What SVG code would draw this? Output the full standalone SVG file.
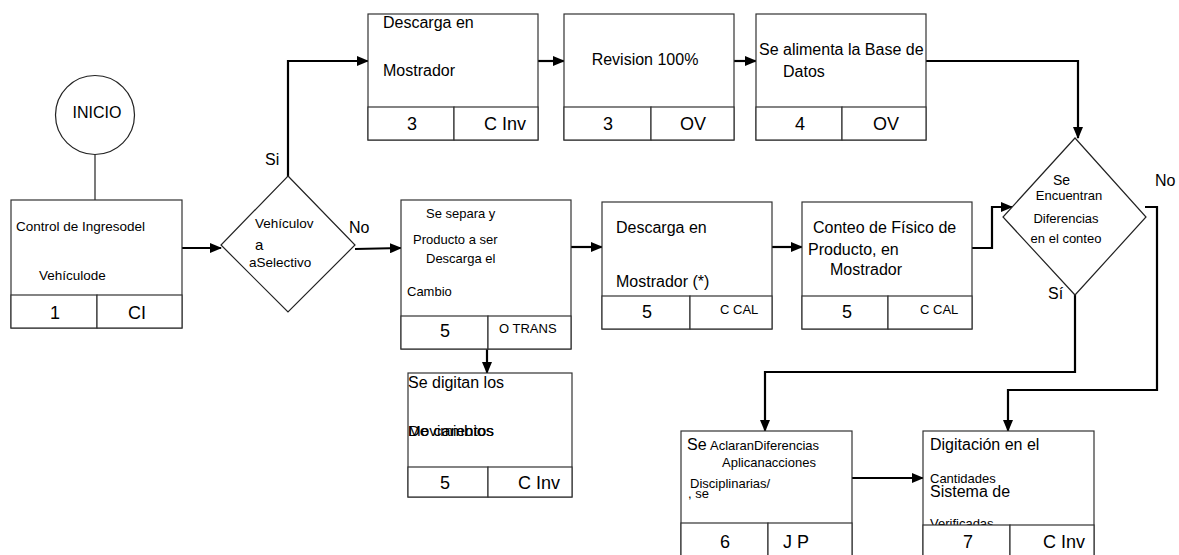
<svg xmlns="http://www.w3.org/2000/svg" width="1179" height="555" viewBox="0 0 1179 555">
  <defs>
    <marker id="arr" markerWidth="12" markerHeight="10" refX="11" refY="5" orient="auto" markerUnits="userSpaceOnUse">
      <path d="M0,0 L12,5 L0,10 Z" fill="#000"/>
    </marker>
    <style>
      text { font-family: "Liberation Sans", Arial, sans-serif; fill: #000; }
      .t { font-size: 16px; }
      .s { font-size: 13px; }
      .n { font-size: 18px; }
      .box, .cell { fill: #fff; stroke: #333; stroke-width: 1.2; }
      .shape { fill: #fff; stroke: #222; stroke-width: 1.2; }
      .conn { fill: none; stroke: #000; stroke-width: 2.2; }
      .thin { fill: none; stroke: #222; stroke-width: 1.2; }
      .mid { text-anchor: middle; }
    </style>
  </defs>

  <!-- connectors -->
  <g id="connectors">
    <path class="thin" d="M95,154 L95,200"/>
    <path class="conn" d="M182,248 L221,248" marker-end="url(#arr)"/>
    <path class="conn" d="M288,177 L288,61 L368,61" marker-end="url(#arr)"/>
    <path class="conn" d="M355,249 L401,248" marker-end="url(#arr)"/>
    <path class="conn" d="M538,61 L564,61" marker-end="url(#arr)"/>
    <path class="conn" d="M734,61 L756,61" marker-end="url(#arr)"/>
    <path class="conn" d="M926,61 L1078,61 L1078,138" marker-end="url(#arr)"/>
    <path class="conn" d="M571,247 L602,247" marker-end="url(#arr)"/>
    <path class="conn" d="M772,247 L802,247" marker-end="url(#arr)"/>
    <path class="conn" d="M972,248 L992,248 L992,207 L1012,207" marker-end="url(#arr)"/>
    <path class="conn" d="M1145,207 L1157,207 L1157,390 L1008,390 L1008,431" marker-end="url(#arr)"/>
    <path class="conn" d="M1075,295 L1075,372 L765,372 L765,431" marker-end="url(#arr)"/>
    <path class="conn" d="M487,349 L487,373" marker-end="url(#arr)"/>
    <path class="conn" d="M852,478 L923,478" marker-end="url(#arr)"/>
    <text class="t" x="265" y="165">Si</text>
    <text class="t" x="349" y="233">No</text>
    <text class="t" x="1155" y="186">No</text>
    <text class="t" x="1048" y="299">Sí</text>
  </g>

  <!-- start -->
  <g id="inicio">
    <circle class="shape" cx="95" cy="115" r="39.5"/>
    <text class="t mid" x="97" y="118">INICIO</text>
  </g>

  <g id="control-ingreso">
    <rect class="box" x="11" y="200" width="171" height="128"/>
    <text x="16" y="231" style="font-size:13.5px">Control de Ingresodel</text>
    <text x="39" y="280" style="font-size:13.5px">Vehículode</text>
    <rect class="cell" x="11" y="295" width="86" height="33"/>
    <rect class="cell" x="97" y="295" width="85" height="33"/>
    <text class="n mid" x="55" y="319">1</text>
    <text class="n mid" x="137" y="319">CI</text>
  </g>

  <g id="decision-selectivo">
    <polygon class="shape" points="288,176 355,245 288,312 221,245"/>
    <text x="255" y="228" style="font-size:13.5px">Vehículov</text>
    <text x="255" y="250" style="font-size:15px">a</text>
    <text x="249" y="267" style="font-size:13.5px">aSelectivo</text>
  </g>

  <g id="descarga-mostrador-1">
    <rect class="box" x="368" y="14" width="170" height="126"/>
    <text class="t" x="383" y="28">Descarga en</text>
    <text class="t" x="383" y="76">Mostrador</text>
    <rect class="cell" x="368" y="107" width="86" height="33"/>
    <rect class="cell" x="454" y="107" width="84" height="33"/>
    <text class="n mid" x="412" y="130">3</text>
    <text class="n" x="484" y="130">C Inv</text>
  </g>

  <g id="revision">
    <rect class="box" x="564" y="14" width="170" height="126"/>
    <text class="t mid" x="645" y="65">Revision 100%</text>
    <rect class="cell" x="564" y="107" width="87" height="33"/>
    <rect class="cell" x="651" y="107" width="83" height="33"/>
    <text class="n mid" x="608" y="130">3</text>
    <text class="n mid" x="693" y="130">OV</text>
  </g>

  <g id="base-datos">
    <rect class="box" x="756" y="14" width="170" height="126"/>
    <text class="t" x="759" y="55">Se alimenta la Base de</text>
    <text class="t" x="783" y="77">Datos</text>
    <rect class="cell" x="756" y="107" width="86" height="33"/>
    <rect class="cell" x="842" y="107" width="84" height="33"/>
    <text class="n mid" x="800" y="130">4</text>
    <text class="n mid" x="886" y="130">OV</text>
  </g>

  <g id="separa-producto">
    <rect class="box" x="401" y="200" width="170" height="149"/>
    <text class="s" x="426" y="218">Se separa y</text>
    <text class="s" x="413" y="244">Producto a ser</text>
    <text class="s" x="426" y="263">Descarga el</text>
    <text class="s" x="407" y="296">Cambio</text>
    <rect class="cell" x="401" y="316" width="87" height="33"/>
    <rect class="cell" x="488" y="316" width="83" height="33"/>
    <text class="n mid" x="445" y="337">5</text>
    <text class="s" x="499" y="333">O TRANS</text>
  </g>

  <g id="digitan-movimientos">
    <rect class="box" x="408" y="373" width="164" height="124"/>
    <text class="t" x="408" y="388">Se digitan los</text>
    <text x="408" y="436" style="font-size:14px" textLength="86" lengthAdjust="spacingAndGlyphs">Movimientos</text>
    <text x="408" y="436" style="font-size:14px" textLength="86" lengthAdjust="spacingAndGlyphs">De cambios</text>
    <rect class="cell" x="408" y="467" width="80" height="30"/>
    <rect class="cell" x="488" y="467" width="84" height="30"/>
    <text class="n mid" x="445" y="489">5</text>
    <text class="n" x="518" y="489">C Inv</text>
  </g>

  <g id="descarga-mostrador-2">
    <rect class="box" x="602" y="202" width="170" height="127"/>
    <text class="t" x="616" y="233">Descarga en</text>
    <text class="t" x="616" y="287">Mostrador (*)</text>
    <rect class="cell" x="602" y="296" width="88" height="33"/>
    <rect class="cell" x="690" y="296" width="82" height="33"/>
    <text class="n mid" x="647" y="318">5</text>
    <text class="s" x="720" y="314">C CAL</text>
  </g>

  <g id="conteo-fisico">
    <rect class="box" x="802" y="202" width="170" height="127"/>
    <text class="t" x="813" y="233">Conteo de Físico de</text>
    <text class="t" x="808" y="255">Producto, en</text>
    <text class="t" x="830" y="275">Mostrador</text>
    <rect class="cell" x="802" y="296" width="86" height="33"/>
    <rect class="cell" x="888" y="296" width="84" height="33"/>
    <text class="n mid" x="847" y="318">5</text>
    <text class="s" x="920" y="314">C CAL</text>
  </g>

  <g id="decision-diferencias">
    <polygon class="shape" points="1075,138 1146,217 1075,295 1003,217"/>
    <text x="1053" y="185" style="font-size:14px">Se</text>
    <text class="s mid" x="1069" y="200">Encuentran</text>
    <text class="s mid" x="1066" y="223">Diferencias</text>
    <text class="s mid" x="1066" y="243">en el conteo</text>
  </g>

  <g id="aclaran-diferencias">
    <rect class="box" x="681" y="431" width="171" height="125"/>
    <text class="t" x="687" y="450">Se</text>
    <text class="s" x="710" y="450">AclaranDiferencias</text>
    <text class="s" x="722" y="467">Aplicanacciones</text>
    <text class="s" x="690" y="488">Disciplinarias/</text>
    <text class="s" x="688" y="498">, se</text>
    <rect class="cell" x="681" y="523" width="87" height="33"/>
    <rect class="cell" x="768" y="523" width="84" height="33"/>
    <text class="n mid" x="725" y="548">6</text>
    <text class="n" x="783" y="548">J P</text>
  </g>

  <g id="digitacion-sistema">
    <rect class="box" x="923" y="431" width="171" height="125"/>
    <text class="t" x="930" y="450">Digitación en el</text>
    <text class="s" x="930" y="483">Cantidades</text>
    <text class="t" x="930" y="497">Sistema de</text>
    <text class="s" x="930" y="528">Verificadas</text>
    <rect class="cell" x="923" y="525" width="87" height="31"/>
    <rect class="cell" x="1010" y="525" width="84" height="31"/>
    <text class="n mid" x="968" y="548">7</text>
    <text class="n" x="1043" y="548">C Inv</text>
  </g>
</svg>
